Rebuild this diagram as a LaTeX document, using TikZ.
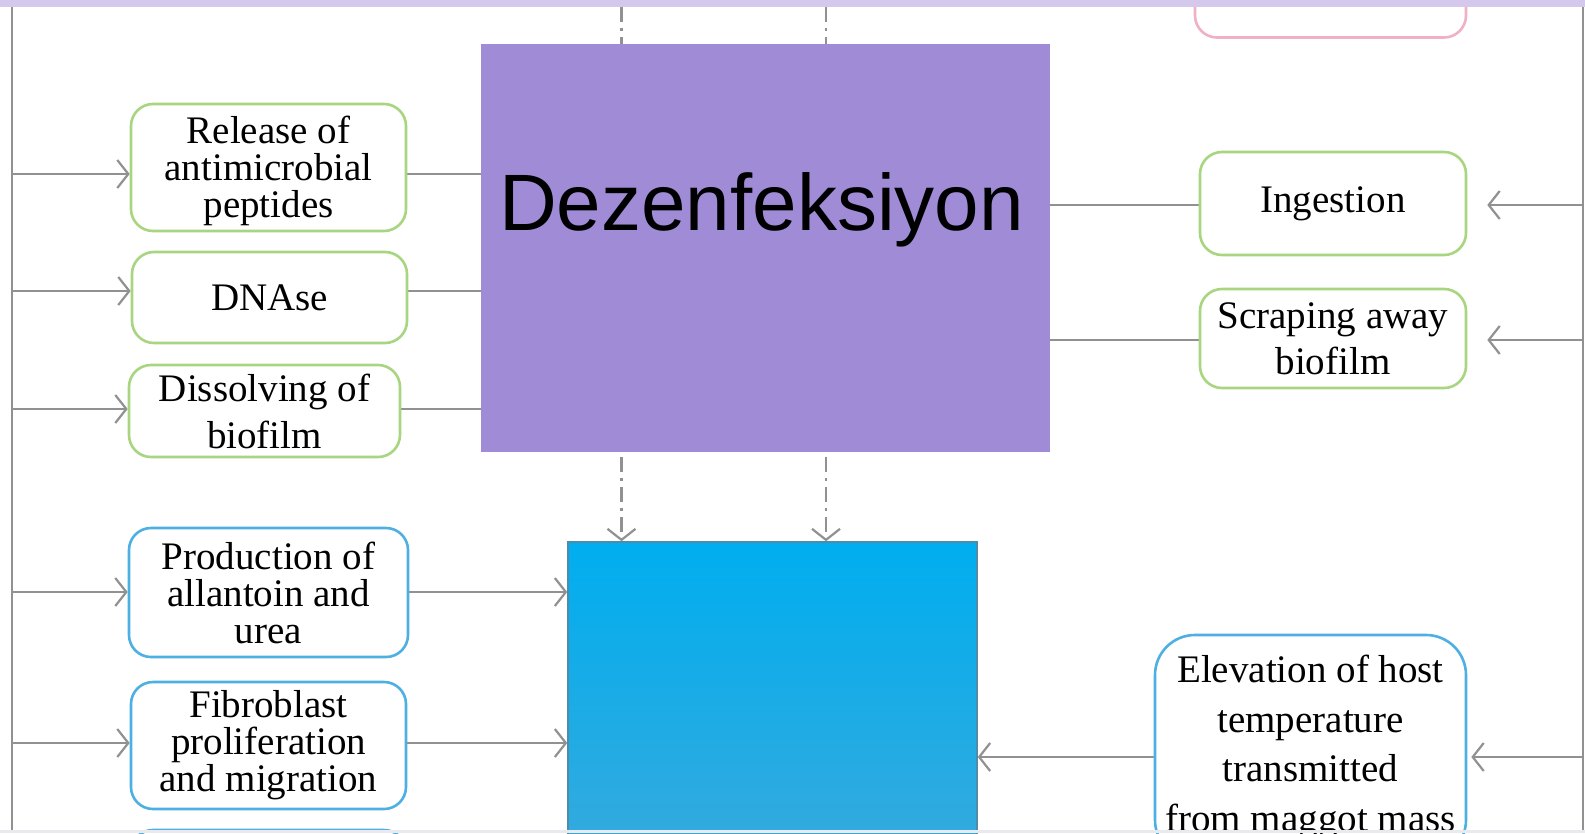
\documentclass[tikz,border=0pt]{standalone}
\usepackage{fontspec}
\setmainfont{Liberation Serif}
\newfontfamily\dezsans{Liberation Sans}
\usetikzlibrary{arrows.meta}
\definecolor{strip}{RGB}{212,201,236}
\definecolor{purp}{RGB}{160,139,214}
\definecolor{bluetop}{RGB}{0,174,239}
\definecolor{bluebot}{RGB}{50,170,222}
\definecolor{blueedge}{RGB}{80,140,170}
\definecolor{grn}{RGB}{168,214,128}
\definecolor{bln}{RGB}{78,176,226}
\definecolor{pnk}{RGB}{240,176,200}
\definecolor{lgrey}{RGB}{145,145,145}
\definecolor{botstrip}{RGB}{234,234,238}
\pgfdeclarelayer{bg}
\pgfsetlayers{bg,main}
\begin{document}
\begin{tikzpicture}[x=1pt,y=-1pt,
  box/.style={draw, fill=white, line width=2.6pt, rounded corners=22pt, inner sep=0pt, align=center, font=\fontsize{39}{37}\selectfont},
  gbox/.style={box, draw=grn},
  bbox/.style={box, draw=bln},
  ln/.style={draw=lgrey, line width=2.4pt},
  arr/.style={ln, -{Straight Barb[length=11pt,width=28pt,line width=2.2pt]}},
  darr/.style={arr, dash pattern=on 15pt off 6pt on 3pt off 6pt},
]
\useasboundingbox (0,0) rectangle (1585,833);

% nodes
\node[fill=purp, minimum width=569pt, minimum height=408pt, inner sep=0pt] (purp) at (765.5,248) {};
\node[font=\dezsans\fontsize{80}{96}\selectfont, anchor=base, inner sep=0pt] (dez) at (761.5,230.5) {Dezenfeksiyon};
\node[draw=blueedge, line width=1.5pt, top color=bluetop, bottom color=bluebot, minimum width=409pt, minimum height=298pt, inner sep=0pt] (blue) at (772.5,691) {};

\node[gbox, minimum width=275pt, minimum height=127pt, text height=108pt] (rel) at (268.5,167.5) {Release of\\antimicrobial\\peptides};
\node[gbox, minimum width=275pt, minimum height=91pt] (dna) at (269.5,297.5) {DNAse};
\node[gbox, minimum width=271pt, minimum height=92pt, font=\fontsize{39}{47}\selectfont] (dis) at (264.5,411) {Dissolving of\\biofilm};
\node[bbox, minimum width=279pt, minimum height=129pt] (prod) at (268.5,592.5) {Production of\\allantoin and\\urea};
\node[bbox, minimum width=275pt, minimum height=127pt] (fib) at (268.5,745.5) {Fibroblast\\proliferation\\and migration};
\node[bbox, minimum width=275pt, minimum height=100pt] (third) at (268.5,880) {};
\node[gbox, minimum width=266pt, minimum height=103pt] (ing) at (1333,203.5) {Ingestion};
\node[gbox, minimum width=266pt, minimum height=99pt, font=\fontsize{39}{46}\selectfont] (scr) at (1333,338.5) {Scraping away\\biofilm};
\node[box, draw=pnk, minimum width=271pt, minimum height=100pt] (pink) at (1330.5,-12.5) {};
\node[bbox, rounded corners=40pt, minimum width=311pt, minimum height=225pt, font=\fontsize{39}{49.5}\selectfont] (elev) at (1310.5,747.5) {Elevation of host\\temperature\\transmitted\\from maggot mass};

% rails and connectors
\coordinate (lt) at (12,7);
\coordinate (lb) at (12,833);
\coordinate (rt) at (1583,7);
\coordinate (rb) at (1583,833);
\coordinate (l1) at (12,174);
\coordinate (l2) at (12,291);
\coordinate (l3) at (12,409);
\coordinate (l4) at (12,592);
\coordinate (l5) at (12,743);
\coordinate (r1) at (1583,205);
\coordinate (r2) at (1583,340);
\coordinate (r3) at (1583,757);
\coordinate (d1) at (621.5,7);
\coordinate (d2) at (826,7);

\begin{pgfonlayer}{bg}
\fill[white] (0,0) rectangle (1585,833);
\draw[ln] (lt) -- (lb);
\draw[ln] (rt) -- (rb);
\draw[arr] (l1) -- (l1 -| rel.west);
\draw[arr] (l2) -- (l2 -| dna.west);
\draw[arr] (l3) -- (l3 -| dis.west);
\draw[arr] (l4) -- (l4 -| prod.west);
\draw[arr] (l5) -- (l5 -| fib.west);
\draw[ln] (rel.east |- l1) -- (purp.west |- l1);
\draw[ln] (dna.east |- l2) -- (purp.west |- l2);
\draw[ln] (dis.east |- l3) -- (purp.west |- l3);
\draw[arr] (prod.east |- l4) -- (blue.west |- l4);
\draw[arr] (fib.east |- l5) -- (blue.west |- l5);
\draw[arr, shorten >=20pt] (r1) -- (r1 -| ing.east);
\draw[arr, shorten >=20pt] (r2) -- (r2 -| scr.east);
\draw[ln] (purp.east |- r1) -- (ing.west |- r1);
\draw[ln] (purp.east |- r2) -- (scr.west |- r2);
\draw[arr, shorten >=4pt] (r3) -- (r3 -| elev.east);
\draw[arr] (elev.west |- r3) -- (blue.east |- r3);
\draw[darr] (d1) -- (d1 |- blue.north);
\draw[darr] (d2) -- (d2 |- blue.north);
\end{pgfonlayer}

\fill[strip] (0,0) rectangle (1585,7);
\fill[botstrip] (0,830) rectangle (1585,833);
\end{tikzpicture}
\end{document}
